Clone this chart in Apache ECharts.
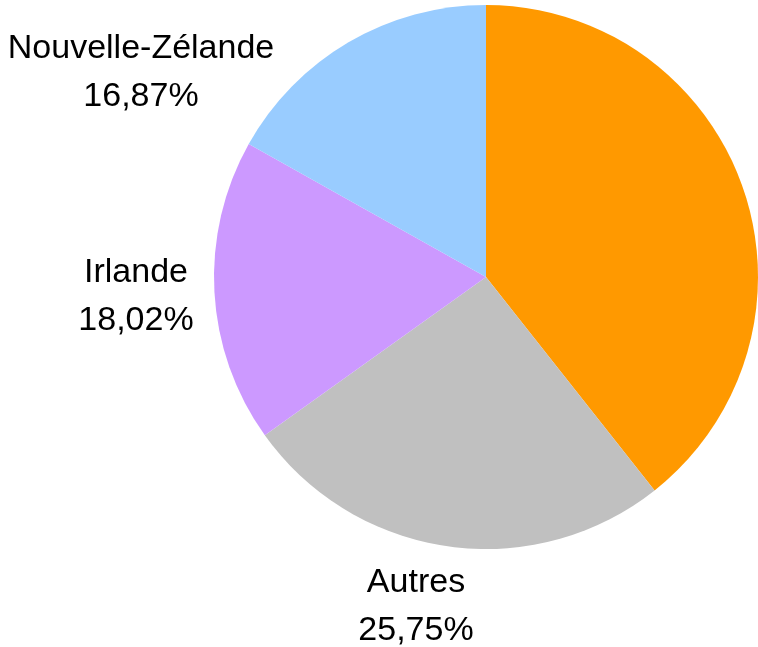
<!DOCTYPE html>
<html>
<head>
<meta charset="utf-8">
<script src="https://cdn.jsdelivr.net/npm/echarts@6/dist/echarts.min.js"></script>
<style>
  html, body { margin: 0; padding: 0; background: #fff; }
  #chart { width: 758px; height: 647px; }
</style>
</head>
<body>
<div id="chart"></div>
<script>
// parts (%), clockwise from 12 o'clock
var names = ['Royaume-Uni', 'Autres', 'Irlande', 'Nouvelle-Zélande'];
var values = [39.36, 25.75, 18.02, 16.87];
var colors = ['#ff9900', '#c0c0c0', '#cc99ff', '#99ccff'];

// where each label block sits (centre of the two lines)
var labelSpots = [[861, 171], [416, 607], [136, 297], [141, 73]];

var myChart = echarts.init(document.getElementById('chart'));

var data = [];
for (var i = 0; i < names.length; i++) {
  data.push({ name: names[i], value: values[i], itemStyle: { color: colors[i] } });
}

myChart.setOption({
  animation: false,
  series: [{
    type: 'pie',
    center: [486, 277],
    radius: 272,
    startAngle: 90,
    clockwise: true,
    data: data,
    itemStyle: { borderWidth: 0 },
    label: {
      show: true,
      position: 'outside',
      formatter: function (p) {
        return p.name + '\n' + p.value.toFixed(2).replace('.', ',') + '%';
      },
      fontFamily: 'Liberation Sans, Arial, sans-serif',
      fontSize: 34,
      lineHeight: 48,
      color: '#000',
      align: 'center'
    },
    labelLine: { show: false },
    labelLayout: function (p) {
      var s = labelSpots[p.dataIndex];
      return { x: s[0], y: s[1], align: 'center', verticalAlign: 'middle', hideOverlap: false };
    },
    emphasis: { disabled: true }
  }]
});
</script>
</body>
</html>
